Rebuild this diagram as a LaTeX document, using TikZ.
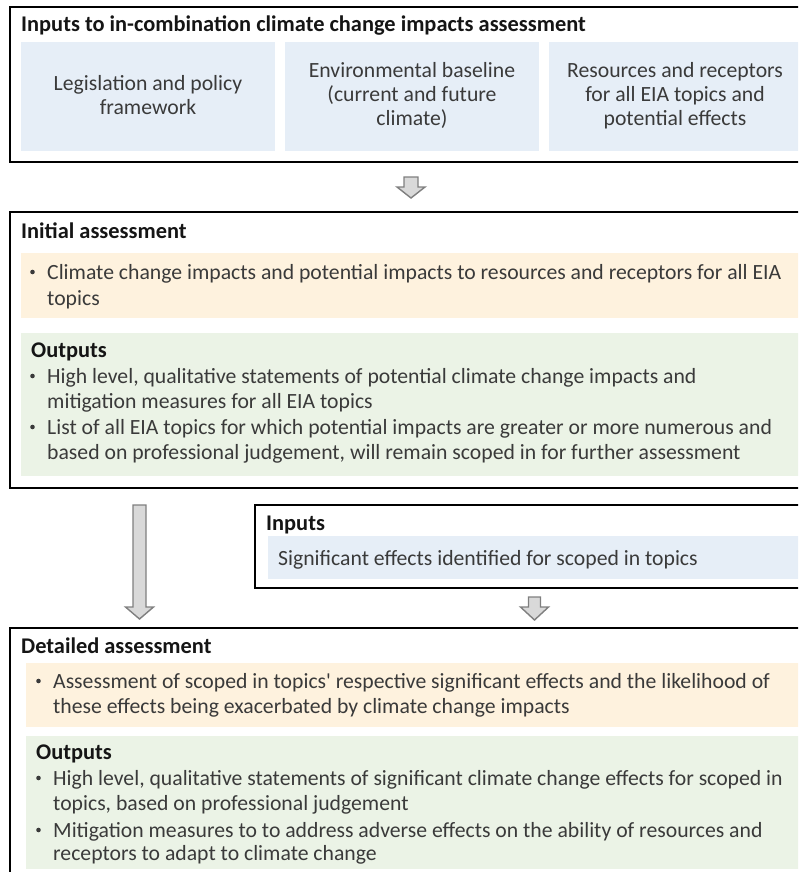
\documentclass[tikz,border=0pt]{standalone}
\usepackage{fontspec}
\setmainfont{Carlito}
\definecolor{inkbody}{HTML}{3A3A3A}
\definecolor{inktitle}{HTML}{151515}
\definecolor{bluefill}{HTML}{E6EEF7}
\definecolor{orangefill}{HTML}{FEF2DE}
\definecolor{greenfill}{HTML}{EBF3E6}
\definecolor{arrowfill}{HTML}{D9D9D9}
\definecolor{arrowline}{HTML}{7F7F7F}
\begin{document}
\begin{tikzpicture}[x=1pt,y=-1pt,
  frame/.style={draw=black, line width=2.2pt},
  panel/.style={anchor=north west, inner sep=0pt, outer sep=0pt},
  bluepanel/.style={panel, fill=bluefill},
  orangepanel/.style={panel, fill=orangefill},
  greenpanel/.style={panel, fill=greenfill},
  bodytext/.style={inner sep=0pt, anchor=base west, text=inkbody,
    font=\fontsize{21.7}{24}\selectfont},
  centretext/.style={text=inkbody, align=center,
    font=\fontsize{21.7}{24}\selectfont},
  headtext/.style={inner sep=0pt, anchor=base west, text=inktitle,
    font=\fontsize{22.4}{24}\selectfont\bfseries},
  bulletmark/.style={circle, fill=inkbody, inner sep=0pt, minimum size=4.6pt},
  blockarrow/.style={fill=arrowfill, draw=arrowline, line width=1.4pt, line join=miter}
]
\useasboundingbox (0,0) rectangle (798,872);
\clip (0,0) rectangle (798,872);

% ---------- Inputs to in-combination assessment ----------
\node[frame, panel, minimum width=800, minimum height=155] (inputsframe) at (10,7) {};
\node[headtext] (inputstitle) at (21,32) {Inputs to in-combination climate change impacts assessment};
\node[bluepanel, minimum width=254, minimum height=109] (legis) at (21,42) {};
\node[centretext] (legistext) at ([yshift=1]legis.center) {Legislation and policy\\framework};
\node[bluepanel, minimum width=254, minimum height=109] (baseline) at (285,42) {};
\node[centretext] (baselinetext) at ([yshift=1]baseline.center) {Environmental baseline\\(current and future\\climate)};
\node[bluepanel, minimum width=252, minimum height=109] (receptors) at (549,42) {};
\node[centretext] (receptorstext) at ([yshift=1]receptors.center) {Resources and receptors\\for all EIA topics and\\potential effects};

% arrow to the initial assessment
\coordinate (arrowonetop) at (411,177);
\draw[blockarrow, shift={(arrowonetop)}]
  (-7,0) -- (7,0) -- (7,10) -- (14,10) -- (0,21) -- (-14,10) -- (-7,10) -- cycle;

% ---------- Initial assessment ----------
\node[frame, panel, minimum width=800, minimum height=276] (initialframe) at (10,212) {};
\node[headtext] (initialtitle) at (21,238) {Initial assessment};
\node[orangepanel, minimum width=779, minimum height=65] (initialscope) at (21,253) {};
\node[bulletmark] (ib1) at (32.5,272) {};
\node[bodytext] (ia1) at (47,279) {Climate change impacts and potential impacts to resources and receptors for all EIA};
\node[bodytext] (ia2) at (47,305) {topics};
\node[greenpanel, minimum width=779, minimum height=143] (initialout) at (21,333) {};
\node[headtext] (initialouthead) at (31,357) {Outputs};
\node[bulletmark] (ib2) at (32.5,376) {};
\node[bodytext] (io1) at (47,383) {High level, qualitative statements of potential climate change impacts and};
\node[bodytext] (io2) at (47,408) {mitigation measures for all EIA topics};
\node[bulletmark] (ib3) at (32.5,427) {};
\node[bodytext] (io3) at (47,434) {List of all EIA topics for which potential impacts are greater or more numerous and};
\node[bodytext] (io4) at (47,459) {based on professional judgement, will remain scoped in for further assessment};

% ---------- Further inputs ----------
\node[frame, panel, minimum width=555, minimum height=83] (sigframe) at (255,505) {};
\node[headtext] (sigtitle) at (266,530) {Inputs};
\node[bluepanel, minimum width=532, minimum height=43] (sigpanel) at (268,536) {};
\node[bodytext] (sigtext) at (278,565) {Significant effects identified for scoped in topics};

% long arrow from the initial assessment
\coordinate (arrowtwotop) at (139.5,505);
\draw[blockarrow, shift={(arrowtwotop)}]
  (-6.5,0) -- (6.5,0) -- (6.5,102) -- (14,102) -- (0,114) -- (-14,102) -- (-6.5,102) -- cycle;

% short arrow from the further inputs
\coordinate (arrowthreetop) at (534.5,597);
\draw[blockarrow, shift={(arrowthreetop)}]
  (-6,0) -- (6,0) -- (6,10) -- (14,10) -- (0,23) -- (-14,10) -- (-6,10) -- cycle;

% ---------- Detailed assessment ----------
\node[frame, panel, minimum width=800, minimum height=280] (detailframe) at (10,628) {};
\node[headtext] (detailtitle) at (21,653) {Detailed assessment};
\node[orangepanel, minimum width=774, minimum height=64] (detailscope) at (26,663) {};
\node[bulletmark] (db1) at (38.5,681) {};
\node[bodytext] (da1) at (53,688) {Assessment of scoped in topics\textquotesingle{} respective significant effects and the likelihood of};
\node[bodytext] (da2) at (53,713) {these effects being exacerbated by climate change impacts};
\node[greenpanel, minimum width=774, minimum height=133] (detailout) at (26,736) {};
\node[headtext] (detailouthead) at (36,759) {Outputs};
\node[bulletmark] (db2) at (38.5,778) {};
\node[bodytext] (do1) at (53,785) {High level, qualitative statements of significant climate change effects for scoped in};
\node[bodytext] (do2) at (53,810) {topics, based on professional judgement};
\node[bulletmark] (db3) at (38.5,830) {};
\node[bodytext] (do3) at (53,837) {Mitigation measures to to address adverse effects on the ability of resources and};
\node[bodytext] (do4) at (53,860) {receptors to adapt to climate change};
\end{tikzpicture}
\end{document}
